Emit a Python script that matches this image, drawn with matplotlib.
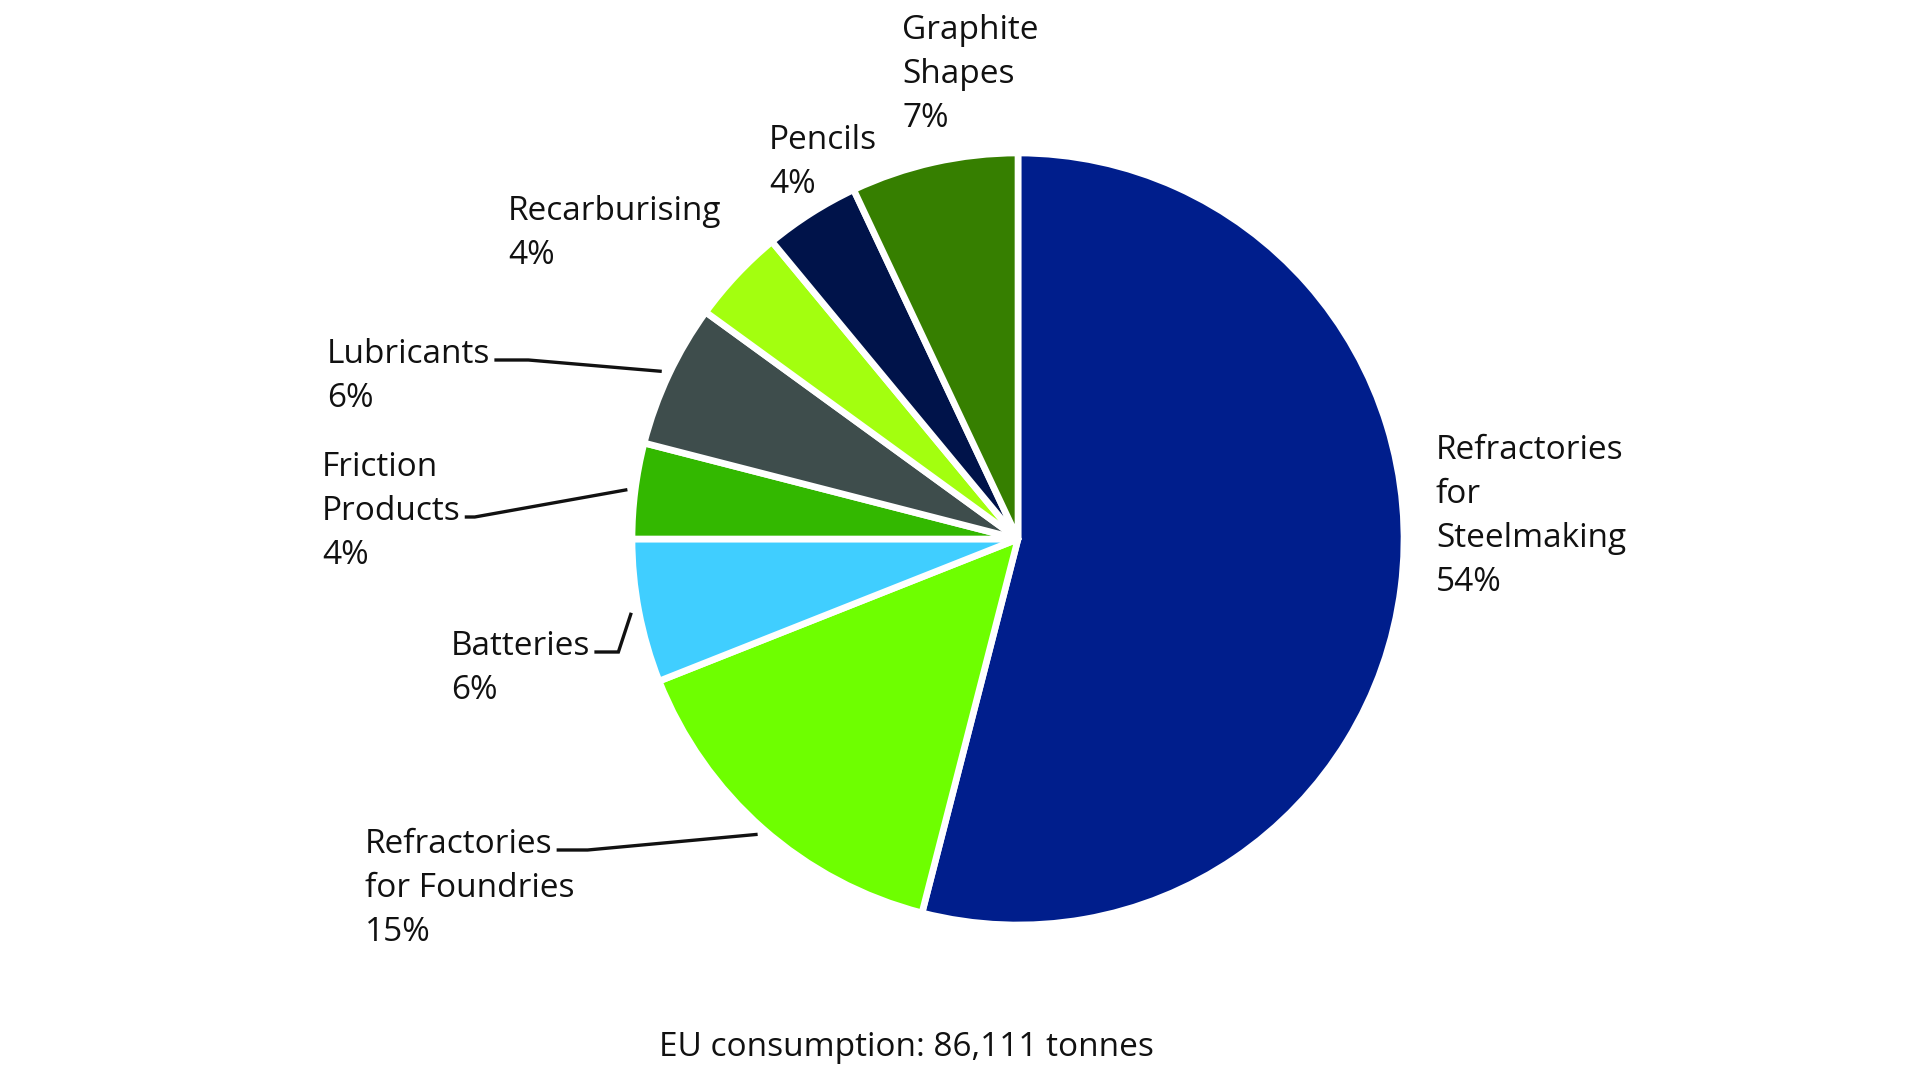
import numpy as np
import matplotlib.pyplot as plt

# data
categories = ['Refractories\nfor\nSteelmaking', 'Refractories\nfor Foundries', 'Batteries',
              'Friction\nProducts', 'Lubricants', 'Recarburising', 'Pencils', 'Graphite\nShapes']
shares = [54, 15, 6, 4, 6, 4, 4, 7]
total_tonnes = 86111

colors = ['#001E8C', '#6EFF00', '#40CEFF', '#33B800', '#3E4D4C', '#A3FF0F', '#00134A', '#367F00']

# label layout in pixels from top-left: x left, y centre of first line,
# index of the line that carries a leader (None = no leader), length of the short flat part
label_pos = [(1436, 447, None, 0), (365, 841, 0, 31), (451, 643, 0, 24), (322, 464, 1, 10),
             (327, 351, 0, 34), (508, 208, None, 0), (769, 137, None, 0), (902, 27, None, 0)]
line_step = 44

H = 1080
plt.rcParams['font.family'] = ['Open Sans', 'DejaVu Sans']

fig = plt.figure(figsize=(19.2, 10.8), dpi=100)
ax = fig.add_axes([0, 0, 1, 1])

cx, cy, R = 1018, H - 539, 386
wedges, _ = ax.pie(shares, colors=colors, startangle=90, counterclock=False,
                   center=(cx, cy), radius=R, frame=True,
                   wedgeprops=dict(edgecolor='white', linewidth=4.8, joinstyle='round'))
ax.set_xlim(0, 1920)
ax.set_ylim(0, H)
ax.set_aspect('equal')
ax.axis('off')

leader_texts = []
for i, cat in enumerate(categories):
    x0, y0, lead, flat = label_pos[i]
    lines = cat.split('\n') + [f'{shares[i]}%']
    for j, ln in enumerate(lines):
        t = ax.text(x0, H - (y0 + 12 + j * line_step), ln, fontsize=24,
                    ha='left', va='baseline', color='#111111')
        if lead == j:
            leader_texts.append((i, t, y0 + j * line_step, flat))

ax.text(906, H - 1047, f'EU consumption: {total_tonnes:,} tonnes', fontsize=24,
        ha='center', va='center', color='#111111')

fig.canvas.draw()
renderer = fig.canvas.get_renderer()
inv = ax.transData.inverted()
for i, t, yc, flat in leader_texts:
    bb = t.get_window_extent(renderer)
    x_end = inv.transform((bb.x1, bb.y0))[0] + 4
    yl = H - (yc + 9)
    w = wedges[i]
    mid = np.deg2rad((w.theta1 + w.theta2) / 2)
    px = cx + 1.02 * R * np.cos(mid)
    py = cy + 1.02 * R * np.sin(mid)
    ax.plot([x_end, x_end + flat, px], [yl, yl, py], color='#111111', lw=2.4,
            solid_capstyle='butt', solid_joinstyle='miter')

fig.savefig('out.png', dpi=100, facecolor='white')
